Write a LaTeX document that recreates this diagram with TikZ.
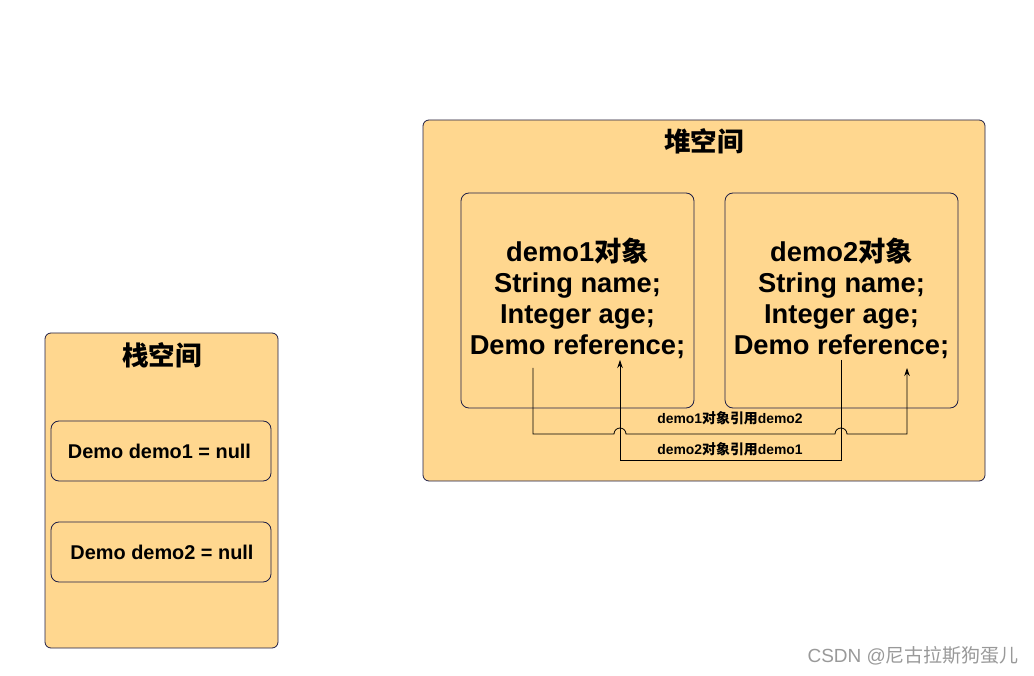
\documentclass[tikz,border=0pt]{standalone}
\usepackage{fontspec}
\setmainfont{Liberation Sans}
\newfontfamily\cjk{Noto Sans CJK SC}
\usetikzlibrary{arrows.meta}
\definecolor{boxfill}{RGB}{255,215,143}
\definecolor{boxline}{RGB}{30,30,70}
\tikzset{
  panel/.style={draw=boxline, fill=boxfill, rounded corners=6pt, line width=0.8pt, inner sep=0pt},
  inner/.style={draw=boxline, rounded corners=8pt, line width=0.8pt, inner sep=0pt},
  ttl/.style={font=\cjk\bfseries\fontsize{26.5}{30}\selectfont},
  big/.style={align=center, font=\bfseries\fontsize{27.3}{31}\selectfont},
  small/.style={font=\bfseries\fontsize{19.9}{22}\selectfont},
  lbl/.style={font=\bfseries\fontsize{13.9}{15}\selectfont},
  ref/.style={line width=0.8pt, -{Stealth[length=8pt,width=5.5pt]}}
}
\begin{document}
\begin{tikzpicture}[x=1pt,y=-1pt]
\useasboundingbox (0,0) rectangle (1034,676);
% heap
\node[panel, minimum width=562pt, minimum height=361pt] (heap) at (704,300.5) {};
\node[ttl] (heapt) at (704,141) {堆空间};
\node[inner, minimum width=233pt, minimum height=215pt] (o1) at (577.5,300.5) {};
\node[inner, minimum width=233pt, minimum height=215pt] (o2) at (841.5,300.5) {};
\node[big] (t1) at (577.5,298.5) {demo1{\cjk 对象}\\String name;\\Integer age;\\Demo reference;};
\node[big] (t2) at (841.5,298.5) {demo2{\cjk 对象}\\String name;\\Integer age;\\Demo reference;};
% stack
\node[panel, minimum width=233pt, minimum height=315pt] (stack) at (161.5,490.5) {};
\node[ttl] (stackt) at (162,355) {栈空间};
\node[inner, minimum width=220pt, minimum height=60pt] (s1) at (161,451) {};
\node[inner, minimum width=220pt, minimum height=60pt] (s2) at (161,552) {};
\node[small] (s1t) at (159.5,451.5) {Demo demo1 = null};
\node[small] (s2t) at (162,552.5) {Demo demo2 = null};
% references
\coordinate (a1) at (533,368);
\coordinate (b1) at (907,368);
\coordinate (a2) at (841,360);
\coordinate (b2) at (620,360);
\draw[ref] (a1) -- (a1 |- 0,434) -- (614,434) arc[start angle=180,end angle=360,radius=6]
  -- (835,434) arc[start angle=180,end angle=360,radius=6] -- (b1 |- 0,434) -- (b1);
\draw[ref] (a2) -- (a2 |- 0,460) -- (b2 |- 0,460) -- (b2);
\node[lbl] (l1) at (730,418) {demo1{\cjk 对象引用}demo2};
\node[lbl] (l2) at (730,449.5) {demo2{\cjk 对象引用}demo1};
% watermark
\node[text=black!40, font=\fontsize{19}{21}\selectfont, anchor=east] (wm) at (1022.5,656) {CSDN @{\cjk 尼古拉斯狗蛋儿}};
\end{tikzpicture}
\end{document}
